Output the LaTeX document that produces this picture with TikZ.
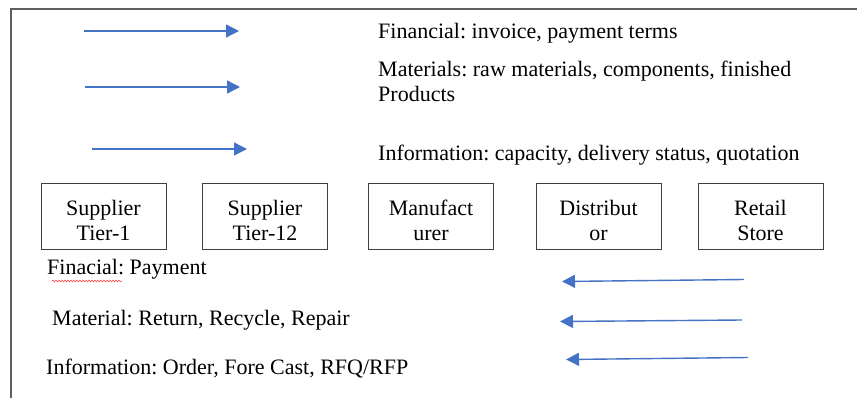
\documentclass[tikz,border=0pt]{standalone}
\usepackage{fontspec}
\setmainfont{Liberation Serif}
\frenchspacing
\usetikzlibrary{arrows.meta,decorations.pathmorphing}
\definecolor{flowblue}{HTML}{4472C4}
\definecolor{framegray}{HTML}{5F5F5F}
\newcommand{\boxlift}{\rule{0pt}{24pt}}
\begin{document}
\begin{tikzpicture}[x=1pt,y=-1pt,
  every node/.style={font=\rmfamily\fontsize{22}{25}\selectfont, inner sep=0pt},
  entity/.style={draw=black!75, line width=0.9pt, minimum width=125pt,
    minimum height=66pt, align=center},
  lbl/.style={anchor=base west, align=left},
  flow/.style={draw=flowblue, line width=1.4pt,
    -{Triangle[length=13pt,width=13pt]}},
  spell/.style={draw=red!80, line width=0.5pt,
    decorate, decoration={snake, amplitude=0.9pt, segment length=3pt}}]
  \useasboundingbox (0,0) rectangle (857,398);

  % page frame (left and top edges)
  \draw[framegray, line width=1.6pt] (11,398) -- (11,9) -- (857,9);

  % forward flows
  \coordinate (fa1) at (84,31);   \coordinate (fb1) at (239,31);
  \coordinate (fa2) at (85,87);   \coordinate (fb2) at (240,87);
  \coordinate (fa3) at (92,149);  \coordinate (fb3) at (247,149);
  \draw[flow] (fa1) -- (fb1);
  \draw[flow] (fa2) -- (fb2);
  \draw[flow] (fa3) -- (fb3);

  \node[lbl] (tfin) at (378,39) {Financial: invoice, payment terms};
  \node[lbl] (tmat) at (378,102) {Materials: raw materials, components, finished\\Products};
  \node[lbl] (tinf) at (378,161) {Information: capacity, delivery status, quotation};

  % supply chain entities
  \node[entity] (s1) at (103.5,216) {\boxlift Supplier\\Tier-1};
  \node[entity] (s2) at (265,216) {\boxlift Supplier\\Tier-12};
  \node[entity] (s3) at (431,216) {\boxlift Manufact\\urer};
  \node[entity] (s4) at (598.5,216) {\boxlift Distribut\\or};
  \node[entity] (s5) at (760.5,216) {\boxlift Retail\\Store};

  % reverse flows
  \node[lbl] (bfin) at (47,274) {Finacial: Payment};
  \node[lbl] (bmat) at (52,325) {Material: Return, Recycle, Repair};
  \node[lbl] (binf) at (46,374) {Information: Order, Fore Cast, RFQ/RFP};
  \coordinate (w1) at (52,281);
  \coordinate (w2) at (122,281);
  \draw[spell] (w1) -- (w2);

  \coordinate (ra1) at (744,279.5); \coordinate (rb1) at (562,281.5);
  \coordinate (ra2) at (742,320);   \coordinate (rb2) at (560,321.5);
  \coordinate (ra3) at (748,357.5); \coordinate (rb3) at (566,359.5);
  \draw[flow] (ra1) -- (rb1);
  \draw[flow] (ra2) -- (rb2);
  \draw[flow] (ra3) -- (rb3);
\end{tikzpicture}
\end{document}
